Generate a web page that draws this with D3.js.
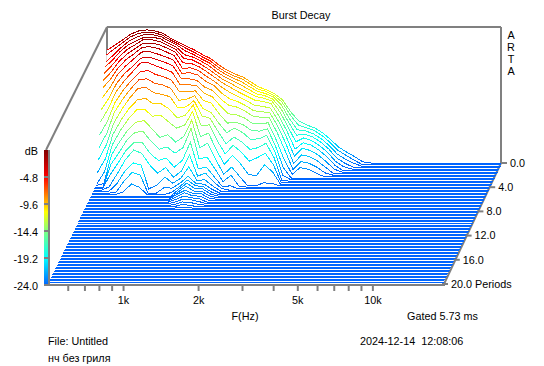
<!DOCTYPE html>
<html>
<head>
<meta charset="utf-8">
<script src="https://cdn.jsdelivr.net/npm/d3@7"></script>
<style>
body { margin: 0; background: #fff; }
text { font-family: "Liberation Sans", Arial, sans-serif; font-size: 10.8px; fill: #000; }
</style>
</head>
<body>
<div id="container"></div>
<script>
var width = 544,
    height = 366,
    floorDb = -24,
    sliceCount = 81,
    periodStep = 0.25,
    backLeft = 107,
    backY = 163,
    frontLeft = 48,
    frontY = 284,
    wallTop = 27,
    plotWidth = 395,
    barX = 44,
    barTop = 150,
    barBottom = 285,
    gray = '#808080',
    svg;

// frequency columns (Hz), one decay list per column, 0.25 period per entry.
// entries past the end of a list are at the floor
var freqs = [500, 538, 577, 623, 670, 723, 779, 837, 902, 971, 1045, 1126, 1212, 1305, 1405, 1512, 1628, 1753, 1887, 2032,
    2187, 2355, 2536, 2730, 2939, 3165, 3407, 3669, 3950, 4253, 4579, 4930, 5309, 5715, 19200];

var levels = [
    [-4.1, -4.7, -5.7, -6.3, -7.1, -8.1, -9.2, -10.7, -12.5, -14.4, -16.4, -18.4, -20.3, -22.2],
    [-3.2, -3.6, -4.4, -5, -5.7, -6.6, -7.6, -8.9, -10.4, -12, -13.9, -15.8, -17.7, -19.8, -21.8, -23.6],
    [-2.3, -2.6, -3.1, -3.5, -4.1, -4.8, -5.6, -6.6, -7.8, -9.1, -10.6, -12.1, -13.8, -15.5, -17.1, -18.6, -20, -21.6, -23.4],
    [-1.25, -1.5, -1.9, -2.3, -2.8, -3.4, -4.1, -5, -6, -7.1, -8.4, -9.8, -11.3, -12.9, -14.5, -16.2, -17.9, -19.4, -21, -22.6, -23.8],
    [-0.7, -0.9, -1.2, -1.6, -2, -2.5, -3.1, -3.8, -4.8, -5.6, -6.8, -8, -9.3, -10.9, -12.5, -14.2, -15.7, -17.2, -18.6, -20.4, -21.9, -23.5],
    [-0.5, -0.63, -0.72, -0.98, -1.07, -1.5, -1.95, -2.55, -3.36, -3.96, -5.3, -6.4, -7.6, -9.4, -10.9, -12.8, -14.3, -15.8, -16.9, -18.9, -20.3, -22.1],
    [-0.7, -0.75, -0.85, -1, -1.2, -1.5, -1.9, -2.5, -3.2, -3.9, -5, -6.2, -7.5, -9.1, -10.8, -12.5, -14.2, -15.9, -17.5, -19.3, -20.8, -22.7],
    [-1.1, -1.15, -1.2, -1.3, -1.5, -1.8, -2.2, -2.9, -3.6, -4.5, -5.7, -7, -8.4, -10.1, -12, -13.9, -15.9, -17.8, -19.5, -23.5],
    [-2, -2, -2, -2.1, -2.2, -2.4, -2.8, -3.4, -4.1, -5, -6.1, -7.3, -8.7, -10.1, -11.8, -15.5, -17.3, -19, -21, -22.8],
    [-2.7, -2.7, -2.7, -2.8, -2.9, -3.1, -3.5, -4, -4.7, -5.6, -6.7, -7.9, -9.1, -11, -13, -15, -16.9, -18.6, -20, -21.4, -23],
    [-3.4, -3.5, -3.7, -4.1, -4.5, -5, -5.7, -6.3, -6.9, -7.8, -8.8, -10, -11.1, -12.6, -14.1, -16.3, -18, -20.2, -21.7, -22.5, -23.1, -23.6],
    [-4.1, -4.2, -4.3, -4.5, -4.7, -5.1, -5.6, -6.2, -7, -7.8, -8.8, -9.8, -10.9, -12.1, -13.6, -15.3, -17, -19, -20.6, -21.6, -22.2, -22.6, -22.8, -23, -23.1, -23.3, -23.5, -23.7, -23.9],
    [-4.9, -5, -5.1, -5.2, -5.4, -5.7, -6.1, -6.6, -7.3, -7.9, -8.6, -9.2, -9.8, -10.3, -11.2, -12.4, -13.6, -15.8, -17.8, -19.6, -21, -21.4, -21.7, -22, -22.4, -22.6, -22.9, -23.15, -23.4, -23.6, -23.8],
    [-5.6, -5.7, -5.8, -6, -6.3, -6.6, -7.1, -7.7, -8.5, -9.3, -10.3, -11.4, -12.5, -14, -15.6, -17.3, -19, -20.5, -21.5, -22, -22.3, -22.4, -22.6, -22.8, -23, -23.1, -23.2, -23.3, -23.5, -23.7, -23.9],
    [-6.7, -6.8, -6.9, -7.1, -7.3, -7.6, -8, -8.4, -9.1, -9.9, -10.8, -12.1, -12.9, -13.8, -15, -16.5, -18.7, -20.2, -21, -21.9, -22.4, -22.6, -22.7, -22.9, -23, -23.2, -23.4, -23.6, -23.8],
    [-7.6, -7.7, -7.8, -8, -8.3, -8.6, -9.1, -9.8, -10.6, -11.5, -12.7, -14, -15.2, -16.6, -18, -19.4, -20.8, -21.9, -22.5, -23, -23.3, -23.5, -23.6, -23.7, -23.8, -23.9],
    [-8.3, -8.4, -8.5, -8.7, -9, -9.4, -10, -10.8, -11.7, -12.9, -14.3, -15.7, -17.4, -18.9, -20.5, -22, -23, -23.6, -23.7, -23.9],
    [-8.8, -8.9, -9.1, -9.4, -9.8, -10.2, -10.7, -11.3, -12, -13.1, -14.1, -14.9, -16.2, -17.4, -18.9, -20.7, -21.9, -23.5],
    [-9.7, -9.8, -10, -10.2, -10.5, -10.9, -11.4, -12, -12.7, -13.6, -14.6, -15.7, -17.1, -18.6, -20.4, -22.4, -23.8],
    [-10.6, -10.7, -10.8, -11, -11.2, -11.6, -12.2, -12.9, -13.6, -14.6, -15.6, -16.9, -18.4, -20.2, -22.3],
    [-11.1, -11.1, -11.2, -11.3, -11.5, -11.8, -12.4, -13.1, -13.8, -14.7, -15.7, -16.8, -18.1, -19.6, -22.5],
    [-11.8, -11.8, -11.8, -11.9, -12, -12.2, -12.7, -13.2, -13.8, -14.5, -15.3, -16.2, -17.3, -18.8, -20.6, -23.5],
    [-12.9, -13, -13.2, -13.5, -13.9, -14.4, -15, -15.6, -16.4, -17.5, -18.3, -19, -19.8, -20.8, -21.8, -23.6],
    [-15, -15.2, -15.6, -16, -16.5, -17.1, -17.8, -18.6, -19.6, -21, -22.2, -23.2, -23.9],
    [-16.6, -17, -17.6, -18.3, -19.2, -20.2, -21.2, -22.2, -23, -23.6],
    [-17.3, -17.5, -17.8, -18.1, -18.5, -19.1, -19.8, -20.7, -21.6, -22.4],
    [-17.8, -18, -18.3, -18.6, -19, -19.5, -20.2, -21, -21.9, -22.7],
    [-18.7, -18.9, -19.2, -19.5, -19.9, -20.4, -21, -21.8, -22.6, -23.4],
    [-19.9, -20.1, -20.4, -20.7, -21.1, -21.6, -22.2, -22.9, -23.6],
    [-21.2, -21.5, -21.9, -22.3, -22.7, -23.1, -23.5],
    [-22.1, -22.4, -22.8, -23.2, -23.6],
    [-22.9, -23.2, -23.5, -23.9],
    [-23.8],
    [],
    []
];

var rampDb = [0, -4.8, -9.6, -11, -14.4, -19.2, -24];
var rampColors = ['#800000', '#ff0000', '#ffc000', '#ffff00', '#80ff80', '#00ffff', '#0064ff'];

var freqTicks = [600, 700, 800, 900, 1000, 2000, 3000, 4000, 5000, 6000, 7000, 8000, 9000, 10000];
var freqLabels = { 1000: '1k', 2000: '2k', 5000: '5k', 10000: '10k' };
var dbTicks = [0, -4.8, -9.6, -14.4, -19.2, -24];
var dbLabels = ['dB', '-4.8', '-9.6', '-14.4', '-19.2', '-24.0'];
var periodTicks = [0, 4, 8, 12, 16, 20];
var periodLabels = ['0.0', '4.0', '8.0', '12.0', '16.0', '20.0 Periods'];
var artaLetters = ['A', 'R', 'T', 'A'];

var fx = d3.scaleLog().domain([500, 19200]).range([0, plotWidth]);
var rise = d3.scaleLinear().domain([floorDb, 0]).range([0, backY - wallTop]);
var depthX = d3.scaleLinear().domain([0, 20]).range([backLeft, frontLeft]);
var depthY = d3.scaleLinear().domain([0, 20]).range([backY, frontY]);
var barY = d3.scaleLinear().domain([0, floorDb]).range([barTop, barBottom]);
var color = d3.scaleLinear().domain(rampDb).range(rampColors);

function createSvg() {
    svg = d3.select('#container')
        .append('svg')
        .attr('width', width)
        .attr('height', height);
}

function addGradient(id, y0, y1) {
    var g = svg.append('defs').append('linearGradient')
        .attr('id', id)
        .attr('gradientUnits', 'userSpaceOnUse')
        .attr('x1', 0).attr('x2', 0)
        .attr('y1', y0).attr('y2', y1);
    g.selectAll('stop').data(rampDb).enter().append('stop')
        .attr('offset', function(d) { return 1 - d / floorDb; })
        .attr('stop-color', function(d) { return color(d); });
    g.selectAll('stop').sort(function(a, b) { return a - b; });
}

function drawWalls() {
    var frame = [
        [[backLeft, wallTop], [501, wallTop]],
        [[501, wallTop], [501, backY]],
        [[backLeft, wallTop], [backLeft, backY]],
        [[backLeft, wallTop], [barX + 2, barTop]],
        [[501, backY], [444, frontY]]
    ];
    svg.append('g').selectAll('path').data(frame).enter().append('path')
        .attr('d', d3.line())
        .attr('stroke', gray)
        .attr('stroke-width', 2)
        .attr('fill', 'none');
}

function drawSlices() {
    var group = svg.append('g');
    d3.range(sliceCount).forEach(function(k) {
        var p = k * periodStep,
            left = depthX(p),
            base = depthY(p);
        var pts = freqs.map(function(f, j) {
            var v = levels[j][k];
            return { f: f, db: v === undefined ? floorDb : v };
        });
        var line = d3.line()
            .x(function(d) { return left + fx(d.f); })
            .y(function(d) { return base - rise(d.db); });
        var area = d3.area()
            .x(function(d) { return left + fx(d.f); })
            .y0(base)
            .y1(function(d) { return base - rise(d.db); });
        var id = 'slice' + k;
        addGradient(id, base, base - rise(0));
        group.append('path').attr('d', area(pts)).attr('fill', '#fff');
        group.append('path').attr('d', line(pts))
            .attr('fill', 'none')
            .attr('stroke', 'url(#' + id + ')')
            .attr('stroke-width', 1)
            .attr('shape-rendering', 'crispEdges');
    });
}

function drawColorBar() {
    var id = 'bar';
    addGradient(id, barBottom, barTop);
    svg.append('rect')
        .attr('x', barX).attr('y', barTop)
        .attr('width', 4).attr('height', barBottom - barTop)
        .attr('fill', 'url(#bar)');
    svg.append('line')
        .attr('x1', barX + 5).attr('x2', barX + 5)
        .attr('y1', barTop).attr('y2', barBottom + 1)
        .attr('stroke', gray).attr('stroke-width', 2);

    var axis = d3.axisLeft(barY)
        .tickValues(dbTicks)
        .tickSize(0)
        .tickPadding(5)
        .tickFormat(function(d, i) { return dbLabels[i]; });
    var g = svg.append('g')
        .attr('transform', 'translate(' + (barX - 1) + ',1)')
        .call(axis);
    g.select('.domain').remove();
    g.selectAll('text').style('font-size', '10.8px').style('font-family', null);

    svg.append('g').selectAll('line').data(dbTicks.slice(1)).enter().append('line')
        .attr('x1', barX).attr('x2', barX + 5)
        .attr('y1', barY).attr('y2', barY)
        .attr('stroke', gray).attr('stroke-width', 2);
}

function drawFreqAxis() {
    svg.append('line')
        .attr('x1', barX).attr('x2', 445)
        .attr('y1', frontY + 1).attr('y2', frontY + 1)
        .attr('stroke', gray).attr('stroke-width', 2);
    var axis = d3.axisBottom(fx)
        .tickValues(freqTicks)
        .tickSize(6)
        .tickPadding(5)
        .tickFormat(function(d) { return freqLabels[d] || ''; });
    var g = svg.append('g')
        .attr('transform', 'translate(' + frontLeft + ',' + (frontY + 1) + ')')
        .call(axis);
    g.select('.domain').remove();
    g.selectAll('line').attr('stroke', gray).attr('stroke-width', 2);
    g.selectAll('text').style('font-size', '10.8px').style('font-family', null).attr('fill', '#000');
}

function drawPeriodAxis() {
    var g = svg.append('g').selectAll('g').data(periodTicks).enter().append('g')
        .attr('transform', function(d) {
            return 'translate(' + (depthX(d) + plotWidth - 1) + ',' + depthY(d) + ')';
        });
    g.append('line')
        .attr('x1', 0).attr('x2', 6)
        .attr('stroke', gray).attr('stroke-width', 2);
    g.append('text')
        .attr('x', 9)
        .attr('dy', '0.36em')
        .text(function(d, i) { return periodLabels[i]; });
}

function drawText() {
    var labels = [
        ['Burst Decay', 301, 19, 'middle'],
        ['F(Hz)', 245, 320, 'middle'],
        ['Gated 5.73 ms', 407, 320, 'start'],
        ['File: Untitled', 48, 345, 'start'],
        ['нч без гриля', 48, 362, 'start'],
        ['2024-12-14  12:08:06', 360, 345, 'start']
    ];
    svg.append('g').selectAll('text').data(labels).enter().append('text')
        .attr('x', function(d) { return d[1]; })
        .attr('y', function(d) { return d[2]; })
        .attr('text-anchor', function(d) { return d[3]; })
        .attr('xml:space', 'preserve')
        .style('white-space', 'pre')
        .text(function(d) { return d[0]; });
    svg.append('g').selectAll('text').data(artaLetters).enter().append('text')
        .attr('x', 511)
        .attr('y', function(d, i) { return 39 + i * 12; })
        .attr('text-anchor', 'middle')
        .text(function(d) { return d; });
}

createSvg();
drawWalls();
drawSlices();
drawFreqAxis();
drawPeriodAxis();
drawColorBar();
drawText();
</script>
</body>
</html>
